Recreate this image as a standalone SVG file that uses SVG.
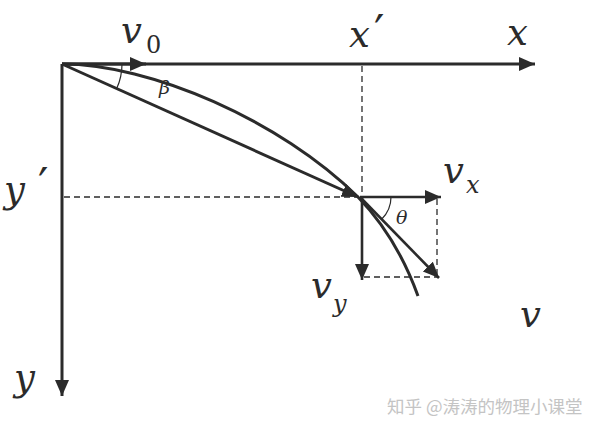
<svg xmlns="http://www.w3.org/2000/svg" width="600" height="431" viewBox="0 0 600 431">
<defs>
<marker id="ah" markerUnits="userSpaceOnUse" markerWidth="18" markerHeight="16" refX="16" refY="7" orient="auto"><path d="M0,0 L16,7 L0,14 z" fill="#2b2b2b"/></marker>
<style>
.ax{stroke:#2b2b2b;stroke-width:3;fill:none}
.vec{stroke:#2b2b2b;stroke-width:2.6;fill:none}
.dash{stroke:#2b2b2b;stroke-width:1.3;stroke-dasharray:6,4;fill:none}
.thin{stroke:#2b2b2b;stroke-width:1.2;fill:none}
.lbl{font-family:"DejaVu Serif",serif;font-style:italic;fill:#2b2b2b;font-size:37px}
.pr{font-family:"DejaVu Serif",serif;fill:#2b2b2b;font-size:46px}
.sub{font-family:"DejaVu Serif",serif;font-style:italic;fill:#2b2b2b;font-size:24px}
.num{font-family:"DejaVu Serif",serif;fill:#2b2b2b;font-size:24px}
.sm{font-family:"DejaVu Serif",serif;font-style:italic;fill:#2b2b2b;font-size:19px}
.wm{font-family:"Noto Sans CJK SC",sans-serif;fill:#c4c4c4;font-size:17.5px}
</style>
</defs>
<g id="connectors">
<line class="dash" x1="362" y1="66" x2="362" y2="196"/>
<line class="dash" x1="64" y1="197" x2="356" y2="197"/>
<line class="dash" x1="437" y1="199" x2="437" y2="277"/>
<line class="dash" x1="364" y1="277" x2="437" y2="277"/>
<line class="ax" x1="62" y1="64" x2="535" y2="64" marker-end="url(#ah)"/>
<line class="ax" x1="62" y1="64" x2="146" y2="64" marker-end="url(#ah)"/>
<line class="ax" x1="62" y1="64" x2="62" y2="396" marker-end="url(#ah)"/>
<path class="ax" d="M62,64 C150,64 280,120 358,197 C385,225 405,260 418,296"/>
<line class="ax" x1="62" y1="64" x2="358" y2="197" marker-end="url(#ah)"/>
<line class="vec" x1="360" y1="197" x2="441" y2="197" marker-end="url(#ah)"/>
<line class="vec" x1="362" y1="197" x2="362" y2="280" marker-end="url(#ah)"/>
<line class="vec" x1="360" y1="197" x2="439" y2="278" marker-end="url(#ah)"/>
<path class="thin" d="M122,64 A60,60 0 0 1 116.7,88.6"/>
<path class="thin" d="M391,197 A31,31 0 0 1 381.6,219.2"/>
</g>
<g id="labels">
<text class="lbl" x="349" y="47">x</text><text class="pr" x="374" y="48">′</text>
<text class="lbl" x="121" y="43">v</text><text class="num" x="146" y="53">0</text>
<text class="lbl" x="507" y="45">x</text>
<text class="lbl" x="4" y="202">y</text><text class="pr" x="38" y="201">′</text>
<text class="lbl" x="443" y="183">v</text><text class="sub" x="466" y="193">x</text>
<text class="lbl" x="311" y="298">v</text><text class="sub" x="333" y="312">y</text>
<text class="lbl" x="520" y="327">v</text>
<text class="lbl" x="14" y="390">y</text>
<text class="sm" x="159" y="94">β</text>
<text class="sm" x="396" y="224">θ</text>
</g>
<text class="wm" x="387" y="413">知乎 @涛涛的物理小课堂</text>
</svg>
